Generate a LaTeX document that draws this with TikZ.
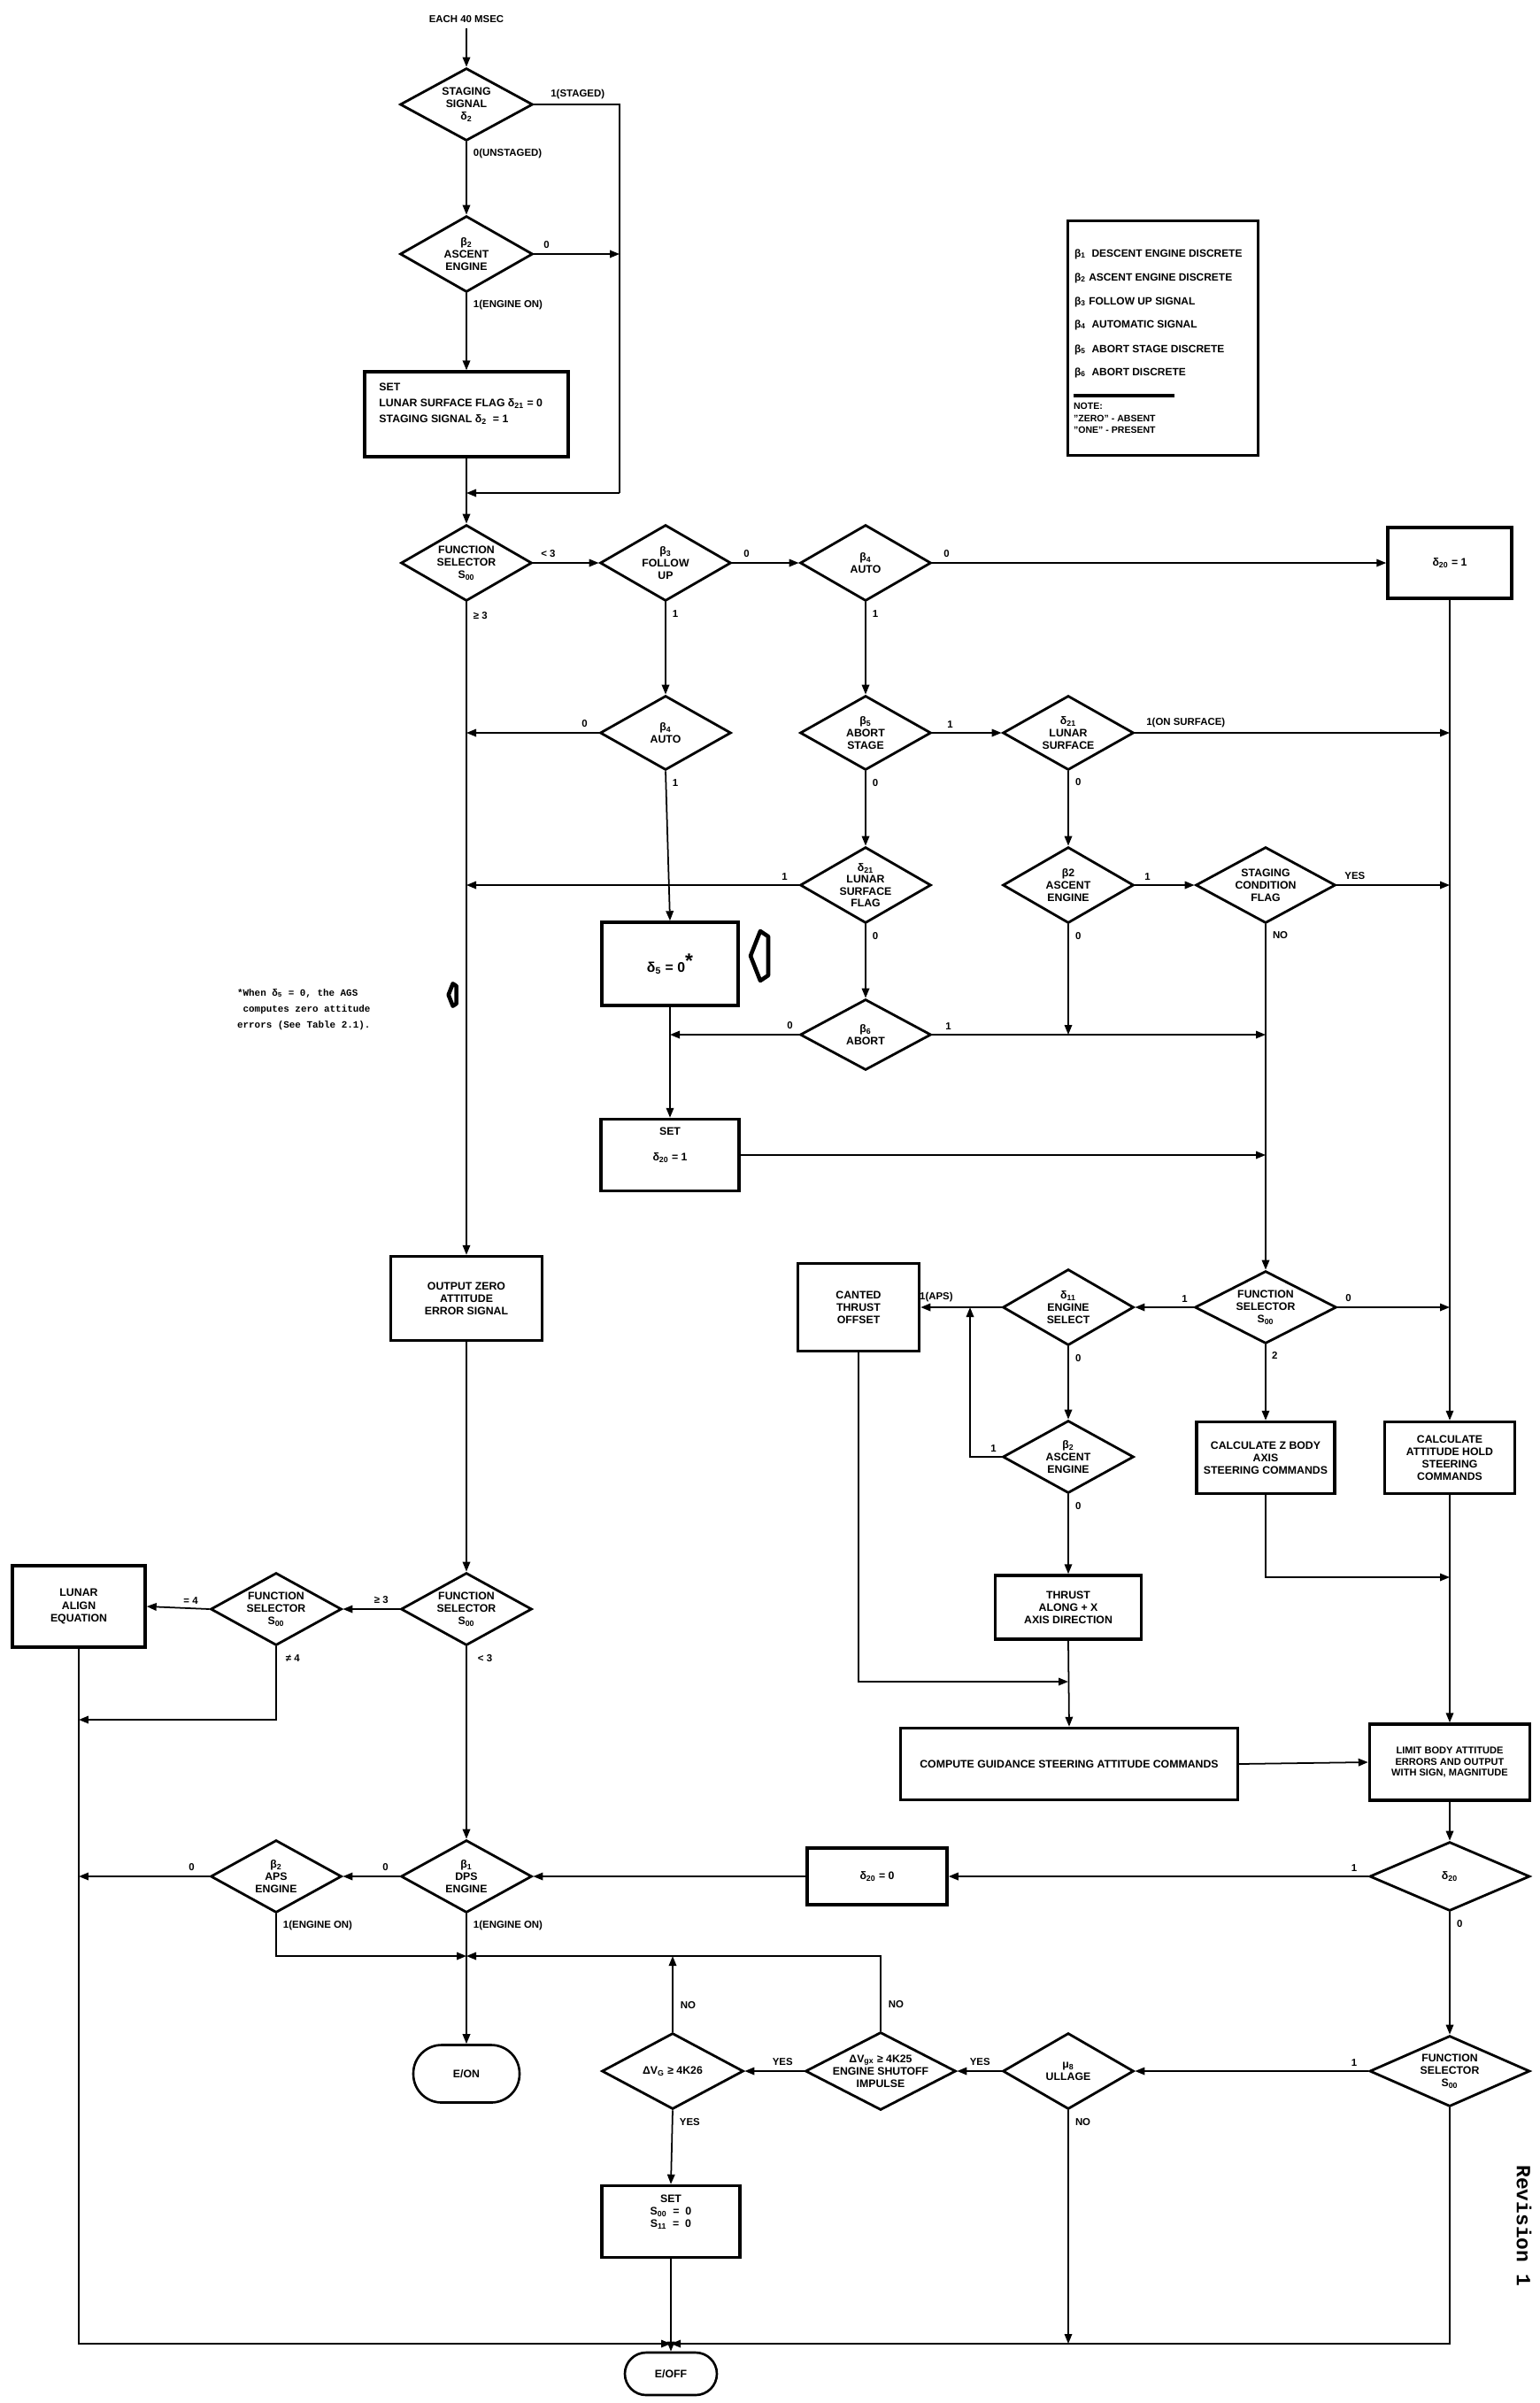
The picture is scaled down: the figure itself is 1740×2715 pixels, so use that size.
\documentclass[tikz,border=0pt]{standalone}
\usepackage{fontspec}
\setmainfont{Liberation Sans}
\setmonofont{Liberation Mono}
\usetikzlibrary{shapes.geometric,arrows.meta,calc}
\newcommand\revmark[3]{%
  \begin{scope}[shift={(#1,#2)},scale=#3]
    \draw[line width=2.6pt,line join=round] (-14,0) -- (-3,-28) -- (6,-22) -- (6,22) -- (-3,28) -- cycle;
  \end{scope}}
\begin{document}
\begin{tikzpicture}[x=0.02cm,y=-0.02cm,
  every node/.style={font=\bfseries\fontsize{7}{8}\selectfont,text=black},
  dia/.style={diamond,draw,line width=1.6pt,inner sep=-6pt,shape aspect=1.8,align=center,minimum width=2.96cm,minimum height=1.68cm},
  bx/.style={rectangle,draw,line width=2pt,inner sep=2pt,align=center},
  term/.style={draw,line width=1.5pt,inner sep=2pt},
  lbl/.style={font=\bfseries\fontsize{6.5}{7}\selectfont,inner sep=1.5pt},
  lgd/.style={anchor=west,font=\bfseries\fontsize{6.8}{7.5}\selectfont,inner sep=1pt},
  arr/.style={line width=1pt,-{Triangle[length=0.22cm,width=0.17cm]}},
  ln/.style={line width=1pt}]
\useasboundingbox (0,0) rectangle (1740,2715);
\fill[white] (0,0) rectangle (1740,2715);

% ---------- top ----------
\node[font=\bfseries\fontsize{6.5}{7}\selectfont] (each) at (527,22) {EACH 40 MSEC};
\node[dia,minimum width=3cm,minimum height=1.64cm] (stage) at (527,118) {STAGING\\SIGNAL\\δ\textsubscript{2}};
\node[dia,minimum width=3cm,minimum height=1.72cm] (asc) at (527,287) {β\textsubscript{2}\\ASCENT\\ENGINE};
\node[bx,minimum width=4.6cm,minimum height=1.92cm] (set1) at (527,468) {};
\node[anchor=north west,align=left,font=\bfseries\fontsize{7}{10.5}\selectfont] (set1t) at ($(set1.north west)+(12,8)$) {SET\\LUNAR SURFACE FLAG δ\textsubscript{21} = 0\\STAGING SIGNAL δ\textsubscript{2} \ = 1};
\coordinate (j1) at (527,557);
\coordinate (r1) at (700,557);

% ---------- legend ----------
\node[bx,minimum width=4.3cm,minimum height=5.3cm] (leg) at (1314,382) {};
\node[lgd] (lg1) at (1212,287) {β\textsubscript{1} \ DESCENT ENGINE DISCRETE};
\node[lgd] (lg2) at (1212,314) {β\textsubscript{2} ASCENT ENGINE DISCRETE};
\node[lgd] (lg3) at (1212,341) {β\textsubscript{3} FOLLOW UP SIGNAL};
\node[lgd] (lg4) at (1212,367) {β\textsubscript{4} \ AUTOMATIC SIGNAL};
\node[lgd] (lg5) at (1212,395) {β\textsubscript{5} \ ABORT STAGE DISCRETE};
\node[lgd] (lg6) at (1212,421) {β\textsubscript{6} \ ABORT DISCRETE};
\draw[line width=2pt] (1213,447) -- (1327,447);
\node[anchor=north west,align=left,font=\bfseries\fontsize{6}{7.8}\selectfont,inner sep=1pt] (lgn) at (1211,453) {NOTE:\\"ZERO" - ABSENT\\"ONE" - PRESENT};

% ---------- row A ----------
\node[dia,minimum height=1.72cm] (fs1) at (527,636) {FUNCTION\\SELECTOR\\S\textsubscript{00}};
\node[dia,minimum height=1.72cm] (b3) at (752,636) {β\textsubscript{3}\\FOLLOW\\UP};
\node[dia,minimum height=1.72cm] (b4a) at (978,636) {β\textsubscript{4}\\AUTO};
\node[bx,minimum width=2.8cm,minimum height=1.6cm] (d201) at (1638,636) {δ\textsubscript{20} = 1};

% ---------- row B ----------
\node[dia] (b4b) at (752,828) {β\textsubscript{4}\\AUTO};
\node[dia] (b5) at (978,828) {β\textsubscript{5}\\ABORT\\STAGE};
\node[dia] (d21s) at (1207,828) {δ\textsubscript{21}\\LUNAR\\SURFACE};

% ---------- row C ----------
\node[dia,minimum height=1.72cm,font=\bfseries\fontsize{7}{7.6}\selectfont] (d21f) at (978,1000) {δ\textsubscript{21}\\LUNAR\\SURFACE\\FLAG};
\node[dia,minimum height=1.72cm] (b2a) at (1207,1000) {β2\\ASCENT\\ENGINE};
\node[dia,minimum width=3.16cm,minimum height=1.72cm] (scf) at (1430,1000) {STAGING\\CONDITION\\FLAG};

% ---------- row D ----------
\node[bx,minimum width=3.08cm,minimum height=1.88cm] (d5) at (757,1089) {\fontsize{9}{10}\selectfont δ\textsubscript{5} = 0\raisebox{0.6ex}{\fontsize{13}{13}\selectfont *}};
\node[dia,minimum height=1.6cm] (b6) at (978,1169) {β\textsubscript{6}\\ABORT};
\node[bx,minimum width=3.12cm,minimum height=1.62cm] (set20) at (757,1305) {};
\node (set20a) at (757,1278) {SET};
\node (set20b) at (757,1308) {δ\textsubscript{20} = 1};

\revmark{862}{1080}{1}
\revmark{513}{1124}{0.45}
\node[anchor=north west,align=left,font=\ttfamily\bfseries\fontsize{6.2}{10.4}\selectfont,inner sep=1pt] (fn) at (266,1115) {*When δ\textsubscript{5} = 0, the AGS\\\ computes zero attitude\\errors (See Table 2.1).};

% ---------- middle ----------
\node[bx,minimum width=3.42cm,minimum height=1.9cm] (oz) at (527,1467) {OUTPUT ZERO\\ATTITUDE\\ERROR SIGNAL};
\node[dia,minimum width=3.2cm,minimum height=1.64cm] (fs2) at (1430,1477) {FUNCTION\\SELECTOR\\S\textsubscript{00}};
\node[dia,minimum height=1.72cm] (d11) at (1207,1477) {δ\textsubscript{11}\\ENGINE\\SELECT};
\node[bx,minimum width=2.74cm,minimum height=1.98cm] (cant) at (970,1477) {CANTED\\THRUST\\OFFSET};
\node[dia,minimum height=1.64cm] (b2b) at (1207,1646) {β\textsubscript{2}\\ASCENT\\ENGINE};
\node[bx,minimum width=3.12cm,minimum height=1.62cm] (calcz) at (1430,1647) {CALCULATE Z BODY\\AXIS\\STEERING COMMANDS};
\node[bx,minimum width=2.94cm,minimum height=1.62cm] (calca) at (1638,1647) {CALCULATE\\ATTITUDE HOLD\\STEERING\\COMMANDS};
\node[bx,minimum width=3.3cm,minimum height=1.44cm] (thrust) at (1207,1816) {THRUST\\ALONG + X\\AXIS DIRECTION};
\node[bx,minimum width=7.62cm,minimum height=1.62cm] (comp) at (1208,1993) {COMPUTE GUIDANCE STEERING ATTITUDE COMMANDS};
\node[bx,minimum width=3.62cm,minimum height=1.72cm,font=\bfseries\fontsize{6.3}{7}\selectfont] (limit) at (1638,1991) {LIMIT BODY ATTITUDE\\ERRORS AND OUTPUT\\WITH SIGN, MAGNITUDE};
\coordinate (xl) at (1096,1477);
\coordinate (cj) at (1207,1900);
\coordinate (zj) at (1638,1782);

% ---------- lower left ----------
\node[dia,minimum height=1.64cm] (fs3) at (527,1818) {FUNCTION\\SELECTOR\\S\textsubscript{00}};
\node[dia,minimum height=1.64cm] (fs4) at (312,1818) {FUNCTION\\SELECTOR\\S\textsubscript{00}};
\node[bx,minimum width=3cm,minimum height=1.84cm] (lunar) at (89,1815) {LUNAR\\ALIGN\\EQUATION};
\coordinate (ne) at (89,1943);

% ---------- delta20 row ----------
\node[dia,minimum width=3.62cm,minimum height=1.56cm] (d20) at (1638,2120) {δ\textsubscript{20}};
\node[bx,minimum width=3.16cm,minimum height=1.28cm] (d200) at (991,2120) {δ\textsubscript{20} = 0};
\node[dia,minimum height=1.64cm] (dps) at (527,2120) {β\textsubscript{1}\\DPS\\ENGINE};
\node[dia,minimum height=1.64cm] (aps) at (312,2120) {β\textsubscript{2}\\APS\\ENGINE};
\coordinate (eo) at (527,2210);

% ---------- bottom row ----------
\node[term,rounded corners=0.64cm,minimum width=2.4cm,minimum height=1.3cm] (eon) at (527,2343) {E/ON};
\node[dia,minimum width=3.2cm,minimum height=1.72cm] (dvg) at (760,2340) {ΔV\textsubscript{G} ≥ 4K26};
\node[dia,minimum width=3.4cm,minimum height=1.76cm] (dvgx) at (995,2340) {ΔV\textsubscript{gx} ≥ 4K25\\ENGINE SHUTOFF\\IMPULSE};
\node[dia,minimum height=1.72cm] (ull) at (1207,2340) {μ\textsubscript{8}\\ULLAGE};
\node[dia,minimum width=3.62cm,minimum height=1.6cm] (fs5) at (1638,2340) {FUNCTION\\SELECTOR\\S\textsubscript{00}};
\node[bx,minimum width=3.12cm,minimum height=1.62cm] (set00) at (758,2510) {};
\node[anchor=north,align=center] (set00t) at ($(set00.north)+(0,6)$) {SET\\S\textsubscript{00} \ = \ 0\\S\textsubscript{11} \ = \ 0};
\coordinate (jb) at (758,2648);
\node[term,rounded corners=0.48cm,minimum width=2.08cm,minimum height=0.96cm] (eoff) at (758,2682) {E/OFF};

\node[rotate=-90,font=\ttfamily\bfseries\fontsize{13}{13}\selectfont] (rev) at (1722,2515) {Revision 1};

% ---------- connectors ----------
\draw[arr] (each) -- (stage.north);
\draw[ln] (stage.east) -| (r1);
\draw[arr] (r1) -- (j1);
\draw[arr] (stage.south) -- (asc.north);
\draw[arr] (asc.east) -- (asc.east -| r1);
\draw[arr] (asc.south) -- (set1.north);
\draw[arr] (set1.south) -- (fs1.north);
\draw[arr] (fs1.east) -- (b3.west);
\draw[arr] (b3.east) -- (b4a.west);
\draw[arr] (b4a.east) -- (d201.west);
\draw[arr] (b3.south) -- (b4b.north);
\draw[arr] (b4a.south) -- (b5.north);
\draw[arr] (b4b.west) -- (b4b.west -| fs1.south);
\draw[arr] (b4b.south) -- (d5.north);
\draw[arr] (b5.east) -- (d21s.west);
\draw[arr] (d21s.east) -- (d21s.east -| d201.south);
\draw[arr] (d21s.south) -- (b2a.north);
\draw[arr] (b5.south) -- (d21f.north);
\draw[arr] (d21f.west) -- (d21f.west -| fs1.south);
\draw[arr] (d21f.south) -- (b6.north);
\draw[arr] (b2a.east) -- (scf.west);
\draw[arr] (scf.east) -- (scf.east -| d201.south);
\draw[arr] (b2a.south) -- (b2a.south |- b6.east);
\draw[arr] (scf.south) -- (fs2.north);
\draw[arr] (b6.west) -- (b6.west -| d5.south);
\draw[arr] (b6.east) -- (b6.east -| scf.south);
\draw[arr] (d5.south) -- (set20.north);
\draw[arr] (set20.east) -- (set20.east -| scf.south);
\draw[arr] (fs1.south) -- (oz.north);
\draw[arr] (d201.south) -- (calca.north);
\draw[arr] (fs2.west) -- (d11.east);
\draw[arr] (fs2.east) -- (fs2.east -| d201.south);
\draw[arr] (fs2.south) -- (calcz.north);
\draw[arr] (d11.west) -- (cant.east);
\draw[arr] (d11.south) -- (b2b.north);
\draw[arr] (b2b.west) -| (xl);
\draw[arr] (b2b.south) -- (thrust.north);
\draw[arr] (cant.south) |- (cj);
\draw[arr] (thrust.south) -- (comp.north);
\draw[arr] (calcz.south) |- (zj);
\draw[arr] (calca.south) -- (limit.north);
\draw[arr] (comp.east) -- (limit.west);
\draw[arr] (limit.south) -- (d20.north);
\draw[arr] (d20.west) -- (d200.east);
\draw[arr] (d200.west) -- (dps.east);
\draw[arr] (d20.south) -- (fs5.north);
\draw[arr] (oz.south) -- (fs3.north);
\draw[arr] (fs3.west) -- (fs4.east);
\draw[arr] (fs4.west) -- (lunar.east);
\draw[arr] (fs4.south) |- (ne);
\draw[arr] (fs3.south) -- (dps.north);
\draw[arr] (dps.west) -- (aps.east);
\draw[arr] (aps.west) -- (aps.west -| lunar.south);
\draw[arr] (aps.south) |- (eo);
\draw[arr] (dps.south) -- (eon.north);
\draw[arr] (dvgx.north) |- (eo);
\draw[arr] (dvg.north) -- (dvg.north |- eo);
\draw[arr] (dvgx.west) -- (dvg.east);
\draw[arr] (ull.west) -- (dvgx.east);
\draw[arr] (fs5.west) -- (ull.east);
\draw[arr] (dvg.south) -- (set00.north);
\draw[arr] (ull.south) -- (ull.south |- jb);
\draw[arr] (fs5.south) |- (jb);
\draw[arr] (lunar.south) |- (jb);
\draw[ln] (set00.south) -- (jb);
\draw[arr] (jb) -- (eoff.north);

% ---------- connector labels ----------
\node[lbl,anchor=south west] (l1) at ($(stage.east)+(16,-3)$) {1(STAGED)};
\node[lbl,anchor=north west] (l2) at ($(stage.south)+(5,5)$) {0(UNSTAGED)};
\node[lbl,anchor=south west] (l3) at ($(asc.east)+(8,-3)$) {0};
\node[lbl,anchor=north west] (l4) at ($(asc.south)+(5,5)$) {1(ENGINE ON)};
\node[lbl,anchor=south west] (l5) at ($(fs1.east)+(6,-3)$) {< 3};
\node[lbl,anchor=north west] (l6) at ($(fs1.south)+(5,8)$) {≥ 3};
\node[lbl,anchor=south west] (l7) at ($(b3.east)+(10,-3)$) {0};
\node[lbl,anchor=north west] (l8) at ($(b3.south)+(5,6)$) {1};
\node[lbl,anchor=south west] (l9) at ($(b4a.east)+(10,-3)$) {0};
\node[lbl,anchor=north west] (l10) at ($(b4a.south)+(5,6)$) {1};
\node[lbl,anchor=south east] (l11) at ($(b4b.west)+(-10,-3)$) {0};
\node[lbl,anchor=north west] (l12) at ($(b4b.south)+(5,6)$) {1};
\node[lbl,anchor=south west] (l13) at ($(b5.east)+(14,-3)$) {1};
\node[lbl,anchor=north west] (l14) at ($(b5.south)+(5,6)$) {0};
\node[lbl,anchor=south west] (l15) at ($(d21s.east)+(10,-3)$) {1(ON SURFACE)};
\node[lbl,anchor=north west] (l16) at ($(d21s.south)+(5,5)$) {0};
\node[lbl,anchor=south east] (l17) at ($(d21f.west)+(-10,-3)$) {1};
\node[lbl,anchor=north west] (l18) at ($(d21f.south)+(5,6)$) {0};
\node[lbl,anchor=south west] (l19) at ($(b2a.east)+(8,-3)$) {1};
\node[lbl,anchor=north west] (l20) at ($(b2a.south)+(5,6)$) {0};
\node[lbl,anchor=south west] (l21) at ($(scf.east)+(6,-3)$) {YES};
\node[lbl,anchor=north west] (l22) at ($(scf.south)+(5,5)$) {NO};
\node[lbl,anchor=south east] (l23) at ($(b6.west)+(-4,-3)$) {0};
\node[lbl,anchor=south west] (l24) at ($(b6.east)+(12,-3)$) {1};
\node[lbl,anchor=south east] (l25) at ($(fs2.west)+(-4,-3)$) {1};
\node[lbl,anchor=south west] (l26) at ($(fs2.east)+(6,-3)$) {0};
\node[lbl,anchor=north west] (l27) at ($(fs2.south)+(4,5)$) {2};
\node[lbl,anchor=south east] (l28) at ($(d11.west)+(-52,-3)$) {1(APS)};
\node[lbl,anchor=north west] (l29) at ($(d11.south)+(5,6)$) {0};
\node[lbl,anchor=south east] (l30) at ($(b2b.west)+(-3,-3)$) {1};
\node[lbl,anchor=north west] (l31) at ($(b2b.south)+(5,6)$) {0};
\node[lbl,anchor=south east] (l32) at ($(fs3.west)+(-10,-3)$) {≥ 3};
\node[lbl,anchor=north west] (l33) at ($(fs3.south)+(10,6)$) {< 3};
\node[lbl,anchor=south east] (l34) at ($(fs4.west)+(-10,-3)$) {= 4};
\node[lbl,anchor=north west] (l35) at ($(fs4.south)+(8,6)$) {≠ 4};
\node[lbl,anchor=south east] (l36) at ($(d20.west)+(-10,-3)$) {1};
\node[lbl,anchor=north west] (l37) at ($(d20.south)+(5,6)$) {0};
\node[lbl,anchor=south east] (l38) at ($(dps.west)+(-10,-3)$) {0};
\node[lbl,anchor=north west] (l39) at ($(dps.south)+(5,5)$) {1(ENGINE ON)};
\node[lbl,anchor=south east] (l40) at ($(aps.west)+(-14,-3)$) {0};
\node[lbl,anchor=north west] (l41) at ($(aps.south)+(5,5)$) {1(ENGINE ON)};
\node[lbl,anchor=west] (l42) at ($(dvg.north)+(6,-30)$) {NO};
\node[lbl,anchor=north west] (l43) at ($(dvg.south)+(5,6)$) {YES};
\node[lbl,anchor=west] (l44) at ($(dvgx.north)+(6,-30)$) {NO};
\node[lbl,anchor=south east] (l45) at ($(dvgx.west)+(-10,-3)$) {YES};
\node[lbl,anchor=south east] (l46) at ($(ull.west)+(-10,-3)$) {YES};
\node[lbl,anchor=north west] (l47) at ($(ull.south)+(5,6)$) {NO};
\node[lbl,anchor=south east] (l48) at ($(fs5.west)+(-10,-3)$) {1};
\end{tikzpicture}
\end{document}
